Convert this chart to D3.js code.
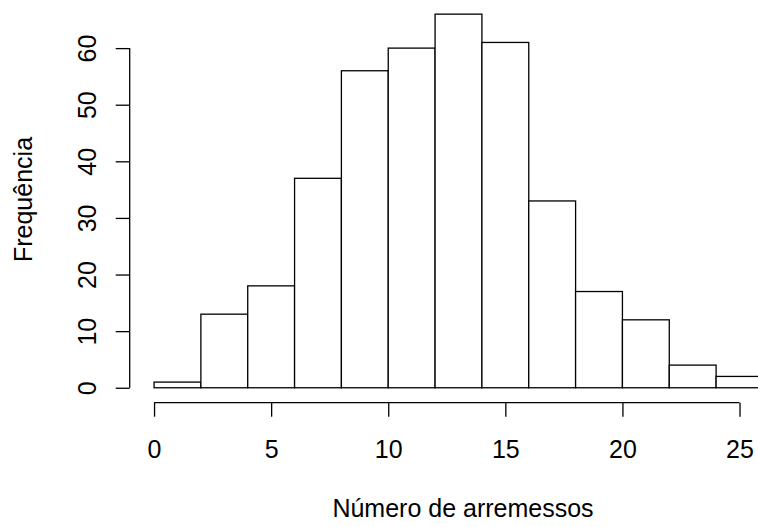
<!DOCTYPE html>
<html>
<head>
<meta charset="utf-8">
<script src="https://cdn.jsdelivr.net/npm/d3@7"></script>
<style>
  body { margin: 0; background: #fff; }
  svg text { font-family: "Liberation Sans", Arial, sans-serif; font-size: 25px; fill: #000; }
</style>
</head>
<body>
<svg id="chart" width="758" height="527"></svg>
<script>
// histogram bins (left edge) and counts
var binStarts = [0, 2, 4, 6, 8, 10, 12, 14, 16, 18, 20, 22, 24];
var binWidth = 2;
var counts = [1, 13, 18, 37, 56, 60, 66, 61, 33, 17, 12, 4, 2];
var xTicks = [0, 5, 10, 15, 20, 25];
var yTicks = [0, 10, 20, 30, 40, 50, 60];
var xTitle = "Número de arremessos";
var yTitle = "Frequência";

var svg = d3.select("#chart");

// plot region as R lays it out (xlim/ylim padded by 4%)
var xScale = d3.scaleLinear().domain([-1.04, 27.04]).range([129.7, 787.3]);
var yScale = d3.scaleLinear().domain([-2.64, 68.64]).range([402.7, -0.8]);

// bars
svg.append("g").attr("class", "bars")
  .selectAll("rect").data(counts)
  .enter().append("rect")
  .attr("x", function (d, i) { return xScale(binStarts[i]); })
  .attr("y", function (d) { return yScale(d); })
  .attr("width", function (d, i) { return xScale(binStarts[i] + binWidth) - xScale(binStarts[i]); })
  .attr("height", function (d) { return yScale(0) - yScale(d); })
  .attr("fill", "#fff")
  .attr("stroke", "#000")
  .attr("stroke-width", 1.3);

// x axis
var xAxis = svg.append("g")
  .attr("transform", "translate(0," + 402.7 + ")")
  .call(d3.axisBottom(xScale).tickValues(xTicks).tickSize(14).tickSizeOuter(0));
xAxis.select(".domain").attr("d", "M" + xScale(0) + ",0H" + xScale(25)).attr("stroke-width", 1.3);
xAxis.selectAll("line").attr("stroke-width", 1.3);
xAxis.selectAll("text")
  .attr("y", 55.6).attr("dy", null)
  .style("font-size", "25px").attr("fill", "#000");

// y axis
var yAxis = svg.append("g")
  .attr("transform", "translate(" + 129.7 + ",0)")
  .call(d3.axisLeft(yScale).tickValues(yTicks).tickSize(14).tickSizeOuter(0));
yAxis.select(".domain").attr("d", "M0," + yScale(0) + "V" + yScale(60)).attr("stroke-width", 1.3);
yAxis.selectAll("line").attr("stroke-width", 1.3);
yAxis.selectAll("text")
  .attr("x", null).attr("dy", null)
  .attr("transform", "translate(-34.2,0) rotate(-90)")
  .attr("text-anchor", "middle")
  .style("font-size", "25px").attr("fill", "#000");

// titles
svg.append("text")
  .attr("x", 463)
  .attr("y", 517.3)
  .attr("text-anchor", "middle")
  .text(xTitle);

svg.append("text")
  .attr("transform", "translate(32,199.5) rotate(-90)")
  .attr("text-anchor", "middle")
  .text(yTitle);
</script>
</body>
</html>
